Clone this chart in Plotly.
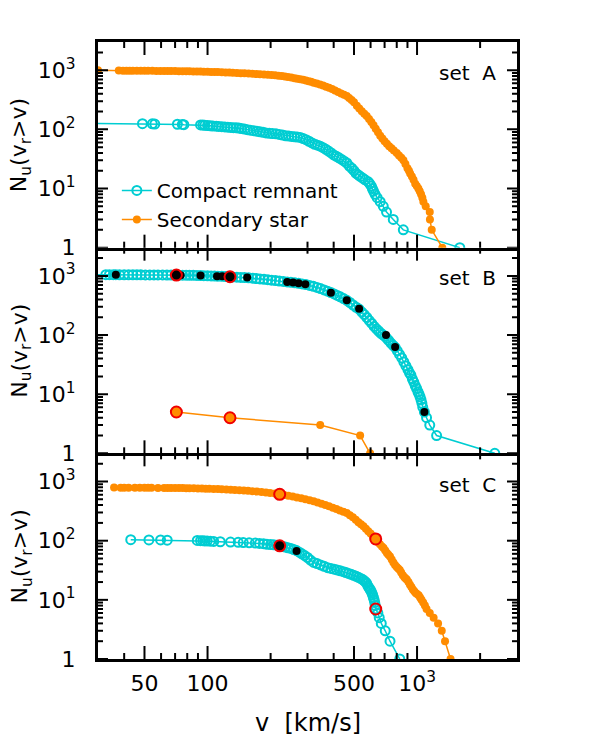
import numpy as np
import plotly.graph_objects as go
from plotly.subplots import make_subplots

CYAN = "#00CDD2"
ORANGE = "#FF8C00"
RED = "#F00000"
FONT = "DejaVu Sans"

# (v [km/s], N_u(v_r>v)) pairs
A_compact = [(25, 126), (48.9, 125), (54.5, 124), (56, 123), (71.8, 122), (75.8, 121), (77.1, 120),
             (92.6, 119), (95, 118), (97, 117), (100, 116), (103, 115), (106, 114), (110, 113), (113, 112),
             (117, 111), (121, 110), (125, 109), (129, 108), (133, 107), (137, 106), (141, 105), (145, 103),
             (150, 101), (155, 99), (160, 97), (166, 95), (172, 93), (178, 91), (184, 89), (190, 87),
             (197, 86), (204, 85), (212, 84), (220, 82), (228, 80), (236, 78), (244, 77), (252, 76),
             (260, 75), (268, 74), (277, 73), (286, 70), (295, 67), (305, 63), (315, 59), (325, 56),
             (335, 54), (345, 52), (356, 49), (367, 46), (378, 43), (389, 40), (400, 37), (412, 35),
             (424, 33), (436, 31), (449, 29), (462, 27), (475, 24), (488, 22), (500, 20), (512, 18),
             (524, 17), (535, 16), (550, 15), (565, 14), (585, 13), (595, 12), (605, 11), (612, 10),
             (620, 9), (630, 8), (645, 7), (667, 6), (690, 5), (715, 4), (770, 3), (860, 2), (1600, 1)]

A_secondary = [(30, 1000), (37.7, 985), (39.5, 984), (41, 983), (42.5, 982), (44, 981), (46, 980),
               (48, 979), (50, 978), (52, 977), (54.5, 976), (57, 974), (59.5, 973), (62, 971), (64.5, 970),
               (67, 968), (70, 966), (73, 964), (76, 962), (79, 960), (82, 958), (85.5, 955), (89, 952),
               (92.5, 949), (96, 945), (100, 941), (104, 937), (108, 933), (112, 929), (117, 924), (122, 918),
               (127, 912), (132, 906), (138, 899), (144, 893), (150, 886), (157, 878), (164, 870), (171, 862),
               (178, 854), (186, 846), (194, 839), (202, 831), (210, 820), (218, 808), (226, 795), (234, 781),
               (242, 767), (251, 751), (260, 734), (268, 720), (277, 705), (286, 688), (295, 671), (304, 653),
               (312, 636), (321, 617), (332, 596), (344, 574), (356, 551), (368, 528), (380, 505), (393, 480),
               (406, 455), (420, 429), (434, 405), (448, 385), (462, 367), (474, 340), (487, 313), (500, 288),
               (516, 250), (530, 225), (545, 203), (560, 184), (575, 168), (590, 150), (605, 133), (620, 117),
               (635, 102), (651, 89), (667, 78), (683, 70), (700, 63), (718, 57), (736, 52), (755, 48),
               (775, 44), (800, 40), (820, 36), (841, 33), (861, 30), (880, 26), (900, 22), (915, 20),
               (927, 18), (945, 16), (962, 14), (980, 12), (997, 11), (1015, 10), (1030, 9), (1045, 8),
               (1060, 7), (1072, 6), (1100, 5), (1150, 4), (1152, 3), (1175, 2), (1320, 1)]

B_compact = [(25, 1050), (32.7, 1050), (34, 1049), (35.5, 1048), (36.5, 1047), (38, 1046), (40, 1045),
             (42, 1044), (44, 1043), (46, 1042), (48, 1041), (50.5, 1040), (53, 1039), (55.5, 1038),
             (58, 1037), (61, 1036), (64, 1035), (67, 1034), (70, 1032), (73, 1030), (76, 1028), (79, 1026),
             (82, 1024), (85.5, 1021), (89, 1018), (92.6, 1014), (96, 1010), (100, 1005), (104, 1000),
             (108, 994), (112, 988), (117, 982), (122, 975), (127, 967), (132, 960), (138, 952), (144, 943),
             (150, 936), (157, 926), (164, 915), (171, 903), (178, 890), (186, 876), (194, 862), (202, 848),
             (211, 834), (220, 820), (230, 806), (240, 791), (250, 777), (261, 762), (272, 748), (283, 731),
             (295, 712), (307, 690), (320, 665), (333, 638), (346, 610), (360, 580), (374, 552), (388, 523),
             (402, 495), (416, 468), (430, 442), (446, 414), (462, 387), (478, 355), (495, 322), (512, 295),
             (529, 275), (545, 245), (560, 222), (576, 198), (592, 176), (608, 157), (624, 140), (640, 127),
             (655, 117), (670, 108), (685, 102), (700, 96), (716, 89), (732, 81), (750, 73), (768, 67),
             (786, 62), (805, 54), (825, 47), (845, 41), (865, 35), (885, 30), (905, 26), (920, 23),
             (935, 21), (950, 18), (965, 16), (980, 14), (995, 12.5), (1010, 11), (1022, 10), (1034, 9),
             (1045, 8), (1055, 7), (1065, 6), (1084, 5), (1110, 4), (1150, 3), (1240, 2), (2350, 1)]

B_secondary = [(71, 5), (128, 4), (345, 3), (535, 2), (597, 1)]
B_black = [(36.5, 1045), (74.4, 1030), (92.6, 1014), (111, 990), (117.5, 982), (154.6, 937),
           (240, 791), (256, 771), (272, 750), (293, 723), (388, 521), (462, 387), (529, 279),
           (711, 100), (786, 63), (1084, 5)]
B_ring_black = [(71, 1032), (128, 966)]
B_ring_orange = [(71, 5), (128, 4)]

C_compact = [(43, 104), (52.5, 103), (59.7, 103), (64.2, 102), (89.3, 101), (92.6, 100), (95, 100),
             (97, 99), (99.6, 99), (103, 98), (107, 97), (115, 96), (128.7, 95), (140, 94), (148, 93),
             (158, 92), (169, 91), (177, 90), (185, 89), (192, 87), (200, 86), (207, 85), (214, 84),
             (221, 82), (228, 80), (235, 78), (242, 76), (250, 74), (258, 71), (266, 68), (274, 64),
             (282, 60), (291, 56), (300, 52), (310, 47), (321, 43), (333, 41), (346, 39), (360, 37),
             (374, 35), (388, 34), (402, 33), (415, 32), (430, 31), (445, 30), (458, 29), (470, 28),
             (484, 27), (498, 26), (512, 25), (525, 24), (538, 23), (550, 22), (560, 21), (568, 20),
             (575, 19), (583, 17), (590, 16), (597, 15), (603, 14), (609, 13), (614, 12), (619, 11),
             (624, 10), (628, 9), (632, 8), (635, 7), (650, 6), (660, 5), (675, 4), (705, 3), (743, 2),
             (827, 1)]

C_secondary = [(35.8, 790), (38.5, 789), (40, 788), (42, 787), (45, 786), (47.5, 785), (50, 784),
               (52, 783), (54, 782), (58, 781), (62, 780), (64.5, 779), (67, 778), (70, 777), (73, 776),
               (76, 775), (79, 773), (82, 771), (86, 769), (90, 766), (94, 762), (98, 758), (102, 754),
               (107, 750), (112, 745), (117, 740), (123, 734), (129, 728), (135, 721), (142, 713),
               (149, 705), (156, 697), (164, 688), (172, 678), (181, 666), (190, 654), (199, 641),
               (210, 626), (221, 609), (232, 592), (243, 575), (255, 557), (267, 539), (280, 520),
               (293, 500), (307, 482), (321, 463), (335, 443), (350, 423), (365, 403), (380, 383),
               (396, 362), (412, 342), (428, 325), (445, 310), (462, 295), (478, 270), (494, 248),
               (510, 225), (525, 205), (540, 190), (555, 175), (570, 160), (585, 145), (600, 132),
               (615, 120), (635, 107), (650, 95), (665, 87), (680, 80), (692, 75), (705, 68), (718, 62),
               (730, 58), (743, 54), (757, 48), (771, 43), (785, 39), (800, 36), (813, 34), (827, 32),
               (840, 29), (855, 26), (870, 24), (882, 23), (893, 22), (910, 20), (925, 18), (940, 16.5),
               (955, 15), (970, 14), (985, 13), (1000, 12.5), (1018, 12), (1034, 11), (1050, 10),
               (1070, 9), (1090, 8), (1110, 7), (1150, 6), (1200, 5), (1260, 4), (1312, 3), (1360, 2),
               (1445, 1)]

C_black = [(266, 67)]
C_ring_black = [(221, 82)]
C_ring_orange = [(221, 609), (635, 107)]
C_ring_open = [(635, 7)]

set_labels = ["set\u00a0\u00a0A", "set\u00a0\u00a0B", "set\u00a0\u00a0C"]
x_tickvals = [50, 100, 500, 1000]
x_ticktext = ["50", "100", "500", "10<sup>3</sup>"]
x_minor = [40, 60, 70, 80, 90, 200, 300, 400, 600, 700, 800, 900, 2000]
y_tickvals = [1, 10, 100, 1000]
y_ticktext = ["1", "10<sup>1</sup>", "10<sup>2</sup>", "10<sup>3</sup>"]
y_minor = [m * 10 ** k for k in range(4) for m in range(2, 10) if m * 10 ** k < 3000]

XR = [np.log10(30), np.log10(3000)]
YR = [0, np.log10(3000)]


def xy(pts):
    return [p[0] for p in pts], [p[1] for p in pts]


fig = make_subplots(rows=3, cols=1, shared_xaxes=True, vertical_spacing=0)


def compact(pts, row, legend=False):
    x, y = xy(pts)
    fig.add_trace(go.Scatter(x=x, y=y, mode="lines+markers", name="Compact remnant", showlegend=legend,
                             line=dict(color=CYAN, width=1.5),
                             marker=dict(symbol="circle-open", size=9, color=CYAN, line=dict(width=2))),
                  row=row, col=1)


def secondary(pts, row, legend=False):
    x, y = xy(pts)
    fig.add_trace(go.Scatter(x=x, y=y, mode="lines+markers", name="Secondary star", showlegend=legend,
                             line=dict(color=ORANGE, width=1.5),
                             marker=dict(symbol="circle", size=8, color=ORANGE)),
                  row=row, col=1)


def dots(pts, row, fill, ring=False, symbol="circle"):
    x, y = xy(pts)
    mk = dict(symbol=symbol, size=11 if ring else 8, color=RED if symbol == "circle-open" else fill)
    if ring:
        mk["line"] = dict(color=RED, width=2)
    fig.add_trace(go.Scatter(x=x, y=y, mode="markers", showlegend=False, marker=mk), row=row, col=1)


compact(A_compact, 1, True)
secondary(A_secondary, 1, True)

compact(B_compact, 2)
secondary(B_secondary, 2)
dots(B_black, 2, "black")
dots(B_ring_black, 2, "black", ring=True)
dots(B_ring_orange, 2, ORANGE, ring=True)

compact(C_compact, 3)
secondary(C_secondary, 3)
dots(C_black, 3, "black")
dots(C_ring_black, 3, "black", ring=True)
dots(C_ring_orange, 3, ORANGE, ring=True)
dots(C_ring_open, 3, RED, ring=True, symbol="circle-open")

frame = dict(showline=True, linewidth=3, linecolor="black",
             showgrid=False, zeroline=False, ticks="")
tickfont = dict(family=FONT, size=22, color="black")
tick_line = dict(color="black", width=2)

for r in (1, 2, 3):
    # only the top panel mirrors its x line, so shared panel borders are drawn once
    fig.update_xaxes(type="log", range=XR, tickvals=x_tickvals, ticktext=x_ticktext,
                     showticklabels=(r == 3), ticklabelstandoff=3, mirror=(r == 1),
                     tickfont=tickfont, row=r, col=1, **frame)
    fig.update_yaxes(type="log", range=YR, tickvals=y_tickvals, ticktext=y_ticktext,
                     ticklabelstandoff=15, mirror=True, tickfont=tickfont, row=r, col=1, **frame)

    # inward tick marks on all four sides of each panel (shapes take data values here)
    sid = "" if r == 1 else str(r)
    for v in x_tickvals + x_minor:
        n = 13 if v in x_tickvals else 6
        for side, sgn in ((0, 1), (1, -1)):
            fig.add_shape(type="line", xref=f"x{sid}", yref=f"y{sid} domain",
                          x0=v, x1=v, ysizemode="pixel", yanchor=side,
                          y0=0, y1=sgn * n, line=tick_line)
    for v in y_tickvals + y_minor:
        n = 10 if v in y_tickvals else 5
        for side, sgn in ((0, 1), (1, -1)):
            fig.add_shape(type="line", xref=f"x{sid} domain", yref=f"y{sid}",
                          y0=v, y1=v, xsizemode="pixel", xanchor=side,
                          x0=0, x1=sgn * n, line=tick_line)

# panel labels and axis titles
panel_mid = [(1 + 2 / 3) / 2, 0.5, 1 / 6]
label_y = [0.95, 0.6175, 0.282]
for i in range(3):
    fig.add_annotation(text=set_labels[i], xref="paper", yref="paper", x=0.955, y=label_y[i],
                       xanchor="right", yanchor="middle", showarrow=False,
                       font=dict(family=FONT, size=20, color="black"))
    fig.add_annotation(text="N<sub>u</sub>(v<sub>r</sub>&gt;v)", xref="paper", yref="paper",
                       x=-0.183, y=panel_mid[i], textangle=-90, xanchor="center", yanchor="middle",
                       showarrow=False, font=dict(family=FONT, size=22, color="black"))
fig.add_annotation(text="v  [km/s]", xref="paper", yref="paper", x=0.5, y=-0.104,
                   xanchor="center", yanchor="middle", showarrow=False,
                   font=dict(family=FONT, size=24, color="black"))

# page body adds an 8px offset, so margins are shifted to compensate
fig.update_layout(
    width=598, height=755,
    margin=dict(l=90, r=89, t=34, b=104),
    paper_bgcolor="white", plot_bgcolor="white",
    font=dict(family=FONT, color="black"),
    legend=dict(x=0.045, y=0.791, xanchor="left", yanchor="top", bgcolor="rgba(0,0,0,0)",
                font=dict(family=FONT, size=20, color="black"), itemwidth=30),
)

fig.write_html("out.html")
